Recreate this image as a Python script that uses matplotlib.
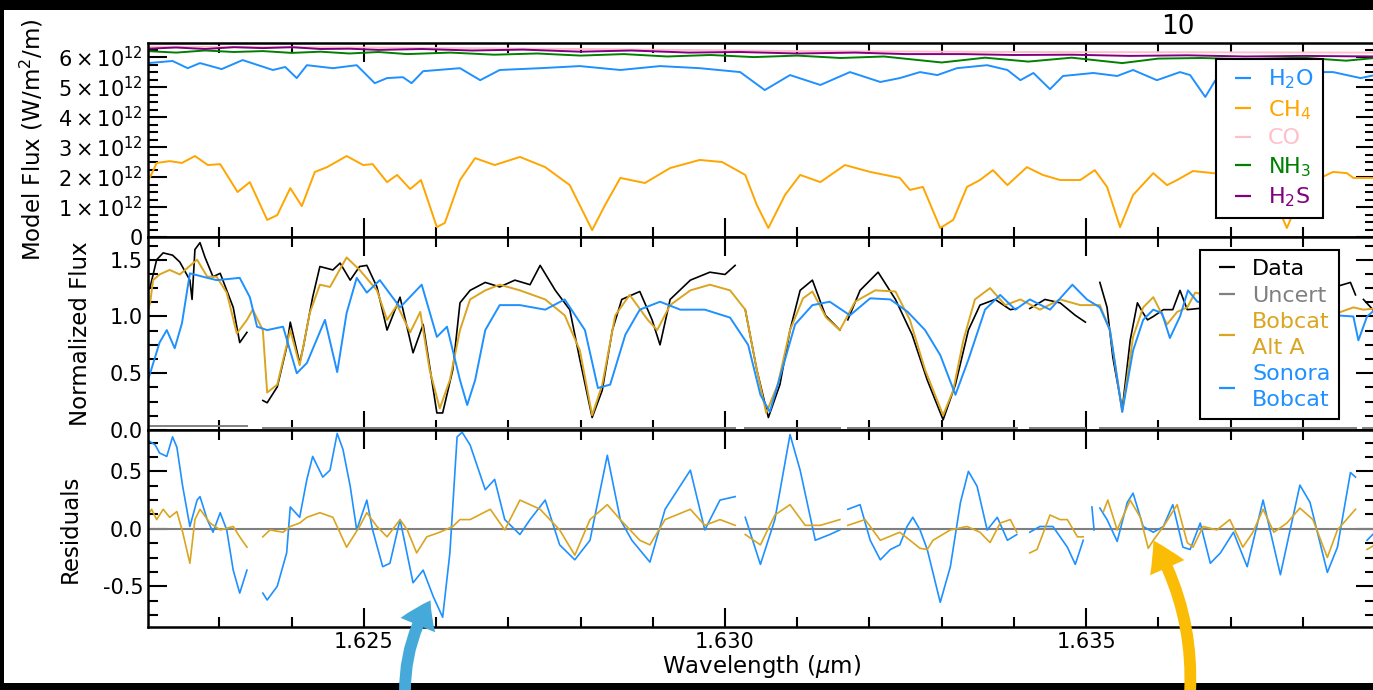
import numpy as np
import matplotlib
matplotlib.use("Agg")
from matplotlib import pyplot as plt
from matplotlib.ticker import MultipleLocator, FuncFormatter, FormatStrFormatter
from matplotlib.patches import Rectangle, FancyArrowPatch
from matplotlib.lines import Line2D

plt.rcParams['axes.unicode_minus'] = False
nan = float('nan')

# ---- top panel: molecule model spectra (units of 1e12 W/m^2/m) ----
h2o_wl = [1.62201, 1.62235, 1.62256, 1.62273, 1.62303, 1.62332, 1.62374, 1.62391, 1.62407, 1.62421,
          1.62457, 1.62490, 1.62515, 1.62532, 1.62554, 1.62566, 1.62582, 1.62633, 1.62661, 1.62688,
          1.62744, 1.62799, 1.62855, 1.62910, 1.62965, 1.63021, 1.63055, 1.63090, 1.63132, 1.63173,
          1.63215, 1.63242, 1.63270, 1.63294, 1.63321, 1.63363, 1.63391, 1.63409, 1.63427, 1.63450,
          1.63468, 1.63510, 1.63543, 1.63565, 1.63598, 1.63630, 1.63644, 1.63665, 1.63679, 1.63741,
          1.63796, 1.63842, 1.63880, 1.63900]
h2o_flux = [5.80, 5.87, 5.63, 5.80, 5.60, 5.90, 5.57, 5.67, 5.30, 5.73,
            5.63, 5.73, 5.13, 5.30, 5.33, 5.13, 5.53, 5.63, 5.23, 5.57,
            5.63, 5.70, 5.57, 5.70, 5.63, 5.50, 4.90, 5.40, 5.07, 5.50,
            5.17, 5.30, 5.50, 5.40, 5.63, 5.73, 5.57, 5.23, 5.47, 4.93,
            5.37, 5.47, 5.37, 5.57, 5.23, 5.50, 5.40, 4.67, 5.23, 5.43,
            5.50, 5.50, 5.30, 5.40]

ch4_wl = [1.62201, 1.62204, 1.62213, 1.62231, 1.62248, 1.62266, 1.62284, 1.62301, 1.62325, 1.62342,
          1.62366, 1.62380, 1.62398, 1.62414, 1.62432, 1.62449, 1.62476, 1.62499, 1.62512, 1.62532,
          1.62546, 1.62564, 1.62579, 1.62601, 1.62612, 1.62633, 1.62654, 1.62681, 1.62716, 1.62751,
          1.62785, 1.62816, 1.62834, 1.62855, 1.62889, 1.62924, 1.62965, 1.62996, 1.63028, 1.63044,
          1.63060, 1.63083, 1.63104, 1.63132, 1.63166, 1.63201, 1.63242, 1.63256, 1.63274, 1.63298,
          1.63316, 1.63335, 1.63353, 1.63371, 1.63391, 1.63418, 1.63440, 1.63464, 1.63492, 1.63512,
          1.63529, 1.63547, 1.63565, 1.63593, 1.63612, 1.63626, 1.63648, 1.63676, 1.63713, 1.63755,
          1.63778, 1.63803, 1.63842, 1.63861, 1.63870, 1.63900]
ch4_flux = [1.90, 2.00, 2.47, 2.53, 2.47, 2.70, 2.40, 2.43, 1.50, 1.83,
            0.57, 0.73, 1.63, 1.03, 2.17, 2.33, 2.70, 2.40, 2.43, 1.83,
            2.07, 1.60, 1.90, 0.33, 0.47, 1.90, 2.63, 2.40, 2.67, 2.33,
            1.73, 0.23, 1.07, 1.97, 1.80, 2.30, 2.57, 2.50, 2.07, 1.07,
            0.30, 1.40, 2.07, 1.83, 2.40, 2.17, 1.97, 1.57, 1.67, 0.30,
            0.57, 1.67, 1.90, 2.23, 1.73, 2.33, 2.07, 1.90, 1.90, 2.23,
            1.67, 0.33, 1.40, 2.13, 1.73, 1.90, 2.20, 2.13, 2.07, 1.57,
            0.30, 1.73, 2.17, 2.13, 1.97, 1.97]

co_wl = [1.6220, 1.6250, 1.6280, 1.6310, 1.6340, 1.6390]
co_flux = [6.35, 6.32, 6.27, 6.20, 6.17, 6.15]

nh3_wl = [1.6220, 1.6224, 1.6228, 1.6232, 1.6236, 1.6240, 1.6244, 1.6248, 1.6252, 1.6256,
          1.6262, 1.6268, 1.6274, 1.6280, 1.6286, 1.6292, 1.6298, 1.6304, 1.6310, 1.6316,
          1.6322, 1.6330, 1.6336, 1.6342, 1.6348, 1.6355, 1.6360, 1.6366, 1.6372, 1.6380,
          1.6386, 1.6390]
nh3_flux = [6.20, 6.15, 6.22, 6.17, 6.20, 6.14, 6.18, 6.12, 6.17, 6.10,
            6.15, 6.08, 6.12, 6.05, 6.10, 6.02, 6.07, 6.00, 6.05, 5.97,
            6.02, 5.82, 5.98, 5.85, 5.98, 5.80, 5.95, 5.97, 5.93, 5.98,
            5.88, 5.97]

h2s_wl = [1.6220, 1.6224, 1.6228, 1.6232, 1.6236, 1.6240, 1.6244, 1.6248, 1.6252, 1.6258,
          1.6265, 1.6272, 1.6280, 1.6287, 1.6295, 1.6302, 1.6310, 1.6318, 1.6325, 1.6333,
          1.6340, 1.6348, 1.6356, 1.6364, 1.6372, 1.6380, 1.6390]
h2s_flux = [6.28, 6.32, 6.27, 6.33, 6.30, 6.33, 6.27, 6.28, 6.24, 6.27,
            6.22, 6.25, 6.18, 6.22, 6.15, 6.17, 6.12, 6.15, 6.10, 6.10,
            6.07, 6.08, 6.04, 6.06, 6.02, 6.04, 6.02]

# ---- middle panel: normalized spectra ----
data_wl = [1.62201, 1.62204, 1.62213, 1.62222, 1.62235, 1.62245, 1.62259, 1.62262, 1.62266, 1.62273,
           1.62280, 1.62291, 1.62301, 1.62319, 1.62328, 1.62338, 1.62350,
           1.62360, 1.62366, 1.62380, 1.62393, 1.62398, 1.62411, 1.62416, 1.62429, 1.62439, 1.62457,
           1.62467, 1.62481, 1.62494, 1.62504, 1.62518, 1.62532, 1.62550, 1.62568, 1.62582, 1.62601,
           1.62609, 1.62623, 1.62633, 1.62647, 1.62668, 1.62688, 1.62709, 1.62730, 1.62744, 1.62765,
           1.62785, 1.62799, 1.62816, 1.62830, 1.62844, 1.62857, 1.62882, 1.62899, 1.62910, 1.62924,
           1.62952, 1.62979, 1.63000, 1.63014, 1.63021,
           1.63028, 1.63044, 1.63060, 1.63076, 1.63090, 1.63104, 1.63121, 1.63139, 1.63159, 1.63165,
           1.63170, 1.63187, 1.63212, 1.63236, 1.63259, 1.63280, 1.63302, 1.63319, 1.63337, 1.63353,
           1.63374, 1.63395, 1.63404, 1.63413,
           1.63422, 1.63443, 1.63464, 1.63485, 1.63499, 1.63510,
           1.63519, 1.63529, 1.63537, 1.63550, 1.63561, 1.63571, 1.63578, 1.63585, 1.63593, 1.63607,
           1.63620, 1.63630, 1.63640, 1.63655, 1.63760, 1.63866, 1.63873, 1.63879,
           1.63884, 1.63900]
data_flux = [1.23, 1.26, 1.50, 1.56, 1.54, 1.48, 1.32, 1.15, 1.59, 1.65,
             1.52, 1.35, 1.38, 1.08, 0.77, 0.86, nan,
             0.26, 0.24, 0.38, 0.73, 0.95, 0.59, 0.73, 1.17, 1.44, 1.41,
             1.47, 1.32, 1.44, 1.45, 1.26, 0.88, 1.17, 0.68, 0.93, 0.15,
             0.15, 0.53, 1.12, 1.23, 1.30, 1.26, 1.32, 1.28, 1.45, 1.23,
             1.06, 0.62, 0.11, 0.35, 0.88, 1.15, 1.22, 0.97, 0.75, 1.15,
             1.32, 1.39, 1.37, 1.45, nan,
             1.06, 0.53, 0.11, 0.40, 0.88, 1.23, 1.32, 1.01, 0.88, nan,
             0.97, 1.23, 1.39, 1.15, 0.84, 0.44, 0.09, 0.40, 0.88, 1.10,
             1.15, 1.06, 1.07, nan,
             1.07, 1.15, 1.12, 1.01, 0.95, nan,
             1.30, 1.08, 0.64, 0.18, 0.79, 1.12, 1.04, 0.97, 1.00, 1.06,
             1.06, 1.23, 1.06, 1.07, 1.10, 1.30, 1.19, nan,
             1.15, 1.04]

uncert_wl = [1.62201, 1.62338, 1.62350, 1.62360, 1.63014, 1.63021, 1.63028, 1.63159, 1.63165,
             1.63170, 1.63404, 1.63413, 1.63422, 1.63499, 1.63510, 1.63519, 1.63873, 1.63879,
             1.63884, 1.63900]
uncert_flux = [0.035, 0.035, nan, 0.015, 0.015, nan, 0.015, 0.015, nan,
               0.015, 0.015, nan, 0.015, 0.015, nan, 0.015, 0.015, nan,
               0.015, 0.015]

alta_wl = [1.62201, 1.62204, 1.62208, 1.62217, 1.62231, 1.62245, 1.62269, 1.62283, 1.62296, 1.62310,
           1.62324, 1.62338, 1.62346, 1.62360, 1.62366, 1.62380, 1.62398, 1.62411, 1.62425, 1.62439,
           1.62453, 1.62476, 1.62494, 1.62518, 1.62532, 1.62546, 1.62564, 1.62578, 1.62591, 1.62605,
           1.62619, 1.62633, 1.62647, 1.62668, 1.62688, 1.62716, 1.62751, 1.62778, 1.62799, 1.62816,
           1.62830, 1.62848, 1.62868, 1.62893, 1.62906, 1.62924, 1.62952, 1.62979, 1.63007, 1.63028,
           1.63044, 1.63057, 1.63073, 1.63090, 1.63108, 1.63121, 1.63140, 1.63159, 1.63180, 1.63208,
           1.63236, 1.63256, 1.63277, 1.63302, 1.63316, 1.63330, 1.63346, 1.63367, 1.63388, 1.63409,
           1.63436, 1.63464, 1.63492, 1.63519, 1.63533, 1.63550, 1.63565, 1.63579, 1.63593, 1.63612,
           1.63626, 1.63640, 1.63651, 1.63727, 1.63783, 1.63870, 1.63884, 1.63900]
alta_flux = [1.06, 1.12, 1.32, 1.37, 1.41, 1.37, 1.50, 1.35, 1.35, 1.21,
             0.85, 0.97, 1.06, 0.88, 0.33, 0.40, 0.88, 0.57, 1.03, 1.28,
             1.26, 1.52, 1.41, 1.23, 0.97, 1.10, 0.86, 1.04, 0.53, 0.19,
             0.44, 0.88, 1.15, 1.23, 1.28, 1.23, 1.15, 1.01, 0.70, 0.13,
             0.40, 1.01, 1.19, 0.97, 0.88, 1.10, 1.23, 1.28, 1.23, 1.06,
             0.53, 0.15, 0.40, 0.88, 1.16, 1.22, 0.99, 0.88, 1.13, 1.23,
             1.22, 0.97, 0.53, 0.13, 0.35, 0.79, 1.15, 1.25, 1.10, 1.15,
             1.06, 1.15, 1.10, 1.10, 0.88, 0.16, 0.82, 1.08, 1.17, 0.93,
             1.04, 1.08, 1.21, 1.10, 0.88, 1.08, 1.06, 1.07]

sonora_wl = [1.62201, 1.62204, 1.62217, 1.62227, 1.62238, 1.62248, 1.62259, 1.62277, 1.62296, 1.62328,
             1.62342, 1.62352, 1.62366, 1.62388, 1.62407, 1.62421, 1.62446, 1.62463, 1.62476, 1.62490,
             1.62504, 1.62522, 1.62550, 1.62580, 1.62601, 1.62615, 1.62633, 1.62643, 1.62654, 1.62668,
             1.62688, 1.62716, 1.62751, 1.62778, 1.62806, 1.62824, 1.62841, 1.62862, 1.62882, 1.62910,
             1.62938, 1.62972, 1.63007, 1.63032, 1.63049, 1.63062, 1.63079, 1.63097, 1.63121, 1.63145,
             1.63173, 1.63201, 1.63229, 1.63253, 1.63277, 1.63298, 1.63319, 1.63337, 1.63360, 1.63381,
             1.63402, 1.63422, 1.63450, 1.63481, 1.63501, 1.63519, 1.63533, 1.63550, 1.63565, 1.63579,
             1.63593, 1.63605, 1.63616, 1.63630, 1.63641, 1.63654, 1.63727, 1.63870, 1.63877, 1.63889,
             1.63900]
sonora_flux = [0.44, 0.50, 0.77, 0.88, 0.72, 0.94, 1.38, 1.35, 1.32, 1.34,
               1.17, 0.91, 0.88, 0.91, 0.50, 0.59, 0.97, 0.51, 1.03, 1.34,
               1.21, 1.32, 1.08, 1.28, 0.82, 0.91, 0.44, 0.22, 0.44, 0.88,
               1.10, 1.10, 1.06, 1.15, 0.88, 0.37, 0.40, 0.84, 1.06, 1.13,
               1.06, 1.06, 0.99, 0.75, 0.31, 0.16, 0.53, 0.93, 1.10, 1.13,
               1.01, 1.16, 1.15, 1.04, 0.88, 0.66, 0.31, 0.62, 1.06, 1.19,
               1.06, 1.15, 1.06, 1.28, 1.15, 1.08, 0.88, 0.16, 0.70, 0.97,
               1.06, 1.03, 0.81, 1.00, 1.23, 1.13, 1.06, 1.00, 0.79, 1.00,
               1.06]

# ---- bottom panel: residuals (data - model) ----
res_sonora_wl = [1.62201, 1.62211, 1.62217, 1.62227, 1.62235, 1.62241, 1.62249, 1.62259, 1.62269, 1.62273,
                 1.62283, 1.62291, 1.62301, 1.62310, 1.62319, 1.62328, 1.62338, 1.62350,
                 1.62360, 1.62366, 1.62380, 1.62393, 1.62398, 1.62411, 1.62421, 1.62429, 1.62443, 1.62453,
                 1.62463, 1.62471, 1.62481, 1.62490, 1.62504, 1.62512, 1.62526, 1.62536, 1.62550, 1.62568,
                 1.62582, 1.62596, 1.62609, 1.62619, 1.62629, 1.62636, 1.62647, 1.62668, 1.62681, 1.62695,
                 1.62716, 1.62730, 1.62751, 1.62771, 1.62792, 1.62813, 1.62837, 1.62855, 1.62871, 1.62896,
                 1.62917, 1.62952, 1.62972, 1.62993, 1.63014, 1.63021,
                 1.63028, 1.63049, 1.63069, 1.63090, 1.63104, 1.63125, 1.63145, 1.63159, 1.63165,
                 1.63170, 1.63187, 1.63201, 1.63215, 1.63229, 1.63242, 1.63252, 1.63260, 1.63270, 1.63280,
                 1.63298, 1.63312, 1.63326, 1.63337, 1.63349, 1.63363, 1.63377, 1.63391, 1.63404, 1.63413,
                 1.63422, 1.63436, 1.63454, 1.63474, 1.63485, 1.63496, 1.63502,
                 1.63508, 1.63511, 1.63515,
                 1.63519, 1.63529, 1.63543, 1.63557, 1.63565, 1.63579, 1.63593, 1.63607, 1.63620, 1.63634,
                 1.63644, 1.63658, 1.63672, 1.63686, 1.63704, 1.63723, 1.63745, 1.63769, 1.63796, 1.63810,
                 1.63834, 1.63848, 1.63866, 1.63873, 1.63879,
                 1.63889, 1.63900]
res_sonora = [0.77, 0.73, 0.66, 0.63, 0.80, 0.71, 0.37, 0.02, 0.25, 0.28,
              0.08, -0.03, 0.14, -0.01, -0.36, -0.56, -0.36, nan,
              -0.56, -0.62, -0.50, -0.21, 0.19, 0.10, 0.43, 0.63, 0.45, 0.51,
              0.83, 0.69, 0.37, -0.01, 0.25, -0.01, -0.33, -0.30, 0.08, -0.47,
              -0.36, -0.59, -0.77, -0.21, 0.80, 0.84, 0.73, 0.34, 0.43, 0.08,
              -0.05, 0.08, 0.25, -0.14, -0.27, -0.10, 0.64, 0.08, -0.10, -0.29,
              0.17, 0.51, -0.01, 0.25, 0.28, nan,
              0.10, -0.31, 0.08, 0.82, 0.51, -0.10, -0.05, -0.01, nan,
              0.17, 0.21, -0.10, -0.27, -0.18, -0.14, 0.02, 0.10, -0.01, -0.18,
              -0.64, -0.33, 0.23, 0.50, 0.37, -0.01, 0.10, -0.10, -0.05, nan,
              -0.03, 0.02, 0.02, -0.16, -0.31, -0.10, nan,
              0.19, -0.01, nan,
              0.18, 0.08, -0.11, 0.23, 0.31, 0.02, -0.03, 0.02, 0.21, -0.16,
              -0.18, 0.05, -0.30, -0.21, -0.03, -0.33, 0.25, -0.40, 0.38, 0.23,
              -0.38, -0.16, 0.49, 0.45, nan,
              -0.10, -0.03]

res_alta_wl = [1.62201, 1.62206, 1.62213, 1.62222, 1.62231, 1.62241, 1.62249, 1.62259, 1.62266, 1.62273,
               1.62287, 1.62301, 1.62319, 1.62328, 1.62338, 1.62350,
               1.62360, 1.62370, 1.62388, 1.62398, 1.62411, 1.62421, 1.62439, 1.62457, 1.62476, 1.62485,
               1.62494, 1.62504, 1.62518, 1.62532, 1.62550, 1.62560, 1.62573, 1.62587, 1.62605, 1.62623,
               1.62633, 1.62647, 1.62675, 1.62695, 1.62716, 1.62744, 1.62771, 1.62792, 1.62813, 1.62837,
               1.62855, 1.62882, 1.62896, 1.62917, 1.62952, 1.62972, 1.62993, 1.63014, 1.63021,
               1.63028, 1.63049, 1.63069, 1.63090, 1.63111, 1.63132, 1.63159, 1.63165,
               1.63170, 1.63194, 1.63215, 1.63242, 1.63256, 1.63270, 1.63280, 1.63288, 1.63312, 1.63335,
               1.63353, 1.63367, 1.63381, 1.63395, 1.63404, 1.63413,
               1.63422, 1.63432, 1.63450, 1.63464, 1.63474, 1.63488, 1.63496, 1.63510,
               1.63524, 1.63530, 1.63543, 1.63561, 1.63575, 1.63586, 1.63593, 1.63607, 1.63626, 1.63640,
               1.63648, 1.63662, 1.63681, 1.63699, 1.63717, 1.63731, 1.63745, 1.63760, 1.63778, 1.63796,
               1.63814, 1.63834, 1.63848, 1.63873, 1.63879,
               1.63889, 1.63900]
res_alta = [0.12, 0.17, 0.08, 0.17, 0.10, 0.15, -0.03, -0.30, 0.08, 0.17,
            0.05, -0.01, 0.02, -0.07, -0.16, nan,
            -0.07, -0.01, -0.03, 0.02, 0.05, 0.10, 0.14, 0.10, -0.16, -0.07,
            0.02, 0.14, 0.02, -0.07, 0.08, -0.01, -0.21, -0.07, -0.03, 0.02,
            0.08, 0.08, 0.17, -0.01, 0.25, 0.17, -0.01, -0.23, 0.08, 0.21,
            0.08, -0.10, -0.14, 0.08, 0.17, 0.03, 0.08, 0.03, nan,
            -0.05, -0.14, 0.12, 0.21, 0.03, 0.03, 0.08, nan,
            0.03, 0.08, -0.10, -0.03, -0.10, -0.17, -0.18, -0.10, -0.01, 0.02,
            -0.03, -0.12, 0.05, 0.08, -0.03, nan,
            -0.21, -0.18, 0.12, 0.08, 0.08, -0.07, -0.07, nan,
            0.15, 0.25, -0.01, 0.25, 0.10, -0.17, -0.10, 0.02, 0.21, -0.12,
            -0.16, 0.02, -0.01, 0.08, -0.16, -0.03, 0.17, -0.03, 0.05, 0.18,
            0.08, -0.25, -0.01, 0.17, nan,
            -0.18, -0.14]

# ---- figure ----
W_PX, H_PX = 1373, 690
fig = plt.figure(figsize=(W_PX / 100, H_PX / 100), dpi=100)
fig.patch.set_facecolor('black')
fig.add_artist(Rectangle((4 / W_PX, 7 / H_PX), 1, 673 / H_PX, transform=fig.transFigure,
                         facecolor='white', edgecolor='none', zorder=-5))

left, width = 148 / W_PX, 1227 / W_PX
ax1 = fig.add_axes([left, 1 - 237 / H_PX, width, 194 / H_PX])
ax2 = fig.add_axes([left, 1 - 430 / H_PX, width, 193 / H_PX])
ax3 = fig.add_axes([left, 1 - 627 / H_PX, width, 197 / H_PX])

lw = 1.4
e12 = 1e12
top_series = [
    (h2o_wl, h2o_flux, 'dodgerblue', r'H$_2$O'),
    (ch4_wl, ch4_flux, 'orange', r'CH$_4$'),
    (co_wl, co_flux, 'pink', 'CO'),
    (nh3_wl, nh3_flux, 'green', r'NH$_3$'),
    (h2s_wl, h2s_flux, 'purple', r'H$_2$S'),
]
for wl, fl, c, lab in top_series:
    ax1.plot(wl, np.array(fl) * e12, color=c, lw=lw)

ax2.plot(data_wl, data_flux, color='black', lw=1.2)
ax2.plot(uncert_wl, uncert_flux, color='gray', lw=1.4)
ax2.plot(alta_wl, alta_flux, color='goldenrod', lw=lw)
ax2.plot(sonora_wl, sonora_flux, color='dodgerblue', lw=lw)
mid_legend = [('black', 'Data'), ('gray', 'Uncert'), ('goldenrod', 'Bobcat\nAlt A'),
              ('dodgerblue', 'Sonora\nBobcat')]

ax3.axhline(0, color='gray', lw=1.5)
ax3.plot(res_sonora_wl, res_sonora, color='dodgerblue', lw=1.2)
ax3.plot(res_alta_wl, res_alta, color='goldenrod', lw=1.2)

for ax in (ax1, ax2, ax3):
    ax.set_xlim(1.62201, 1.63900)
    ax.xaxis.set_major_locator(MultipleLocator(0.005))
    ax.xaxis.set_minor_locator(MultipleLocator(0.001))
    ax.xaxis.set_major_formatter(FormatStrFormatter('%.3f'))
    ax.tick_params(which='both', direction='in', top=True, right=True, width=1.5, labelsize=15)
    ax.tick_params(which='major', length=14)
    ax.tick_params(which='minor', length=7)
    for sp in ax.spines.values():
        sp.set_linewidth(1.8)

ax1.tick_params(labelbottom=False)
ax2.tick_params(labelbottom=False)

ax1.set_ylim(0, 6.47e12)
ax1.yaxis.set_major_locator(MultipleLocator(1e12))
ax1.yaxis.set_minor_locator(MultipleLocator(0.25e12))
ax1.yaxis.set_major_formatter(FuncFormatter(
    lambda v, p: '0' if round(v / 1e12) == 0 else r'$%d\times10^{12}$' % round(v / 1e12)))

ax2.set_ylim(0, 1.70)
ax2.yaxis.set_major_locator(MultipleLocator(0.5))
ax2.yaxis.set_minor_locator(MultipleLocator(0.125))
ax2.yaxis.set_major_formatter(FormatStrFormatter('%.1f'))

ax3.set_ylim(-0.855, 0.86)
ax3.yaxis.set_major_locator(MultipleLocator(0.5))
ax3.yaxis.set_minor_locator(MultipleLocator(0.125))
ax3.yaxis.set_major_formatter(FormatStrFormatter('%.1f'))

ax1.set_ylabel(r'Model Flux (W/m$^2$/m)', fontsize=16.5)
ax2.set_ylabel('Normalized Flux', fontsize=16.5)
ax3.set_ylabel('Residuals', fontsize=16.5)
ax3.set_xlabel(r'Wavelength ($\mu$m)', fontsize=16.5, labelpad=1)
ax1.yaxis.set_label_coords(-0.084, 0.5)
ax2.yaxis.set_label_coords(-0.046, 0.5)
ax3.yaxis.set_label_coords(-0.054, 0.5)


def dash(c):
    return Line2D([], [], color=c, marker='_', markersize=11, markeredgewidth=1.6, ls='none')


leg_kw = dict(loc='upper left', bbox_transform=fig.transFigure, fontsize=16,
              handlelength=1.6, handletextpad=0.35, labelspacing=0.3, borderpad=0.4,
              borderaxespad=0, fancybox=False, edgecolor='black', framealpha=1,
              labelcolor='linecolor')
leg1 = ax1.legend([dash(s[2]) for s in top_series], [s[3] for s in top_series],
                  bbox_to_anchor=(1216 / W_PX, 1 - 59 / H_PX), **leg_kw)
leg2 = ax2.legend([dash(c) for c, _ in mid_legend], [t for _, t in mid_legend],
                  bbox_to_anchor=(1200 / W_PX, 1 - 250 / H_PX), **leg_kw)
for lg in (leg1, leg2):
    lg.get_frame().set_linewidth(1.5)
for t in leg2.get_texts():
    t.set_linespacing(1.35)

fig.text(1178 / W_PX, 1 - 27 / H_PX, '10', fontsize=19, ha='center', va='center')


# annotation arrows
def px(x, y):
    return (x / W_PX, 1 - y / H_PX)


fig.add_artist(FancyArrowPatch(px(405, 694), px(432, 598), transform=fig.transFigure,
                               arrowstyle='simple,head_width=2.7,head_length=2.0,tail_width=0.85',
                               mutation_scale=10, connectionstyle='arc3,rad=-0.15',
                               color='#45a9d9', lw=0, zorder=10))
fig.add_artist(FancyArrowPatch(px(1190, 694), px(1152, 538), transform=fig.transFigure,
                               arrowstyle='simple,head_width=2.7,head_length=2.2,tail_width=0.85',
                               mutation_scale=10, connectionstyle='arc3,rad=0.15',
                               color='#fbbc05', lw=0, zorder=10))

fig.savefig('out.png', dpi=100, facecolor=fig.get_facecolor())
